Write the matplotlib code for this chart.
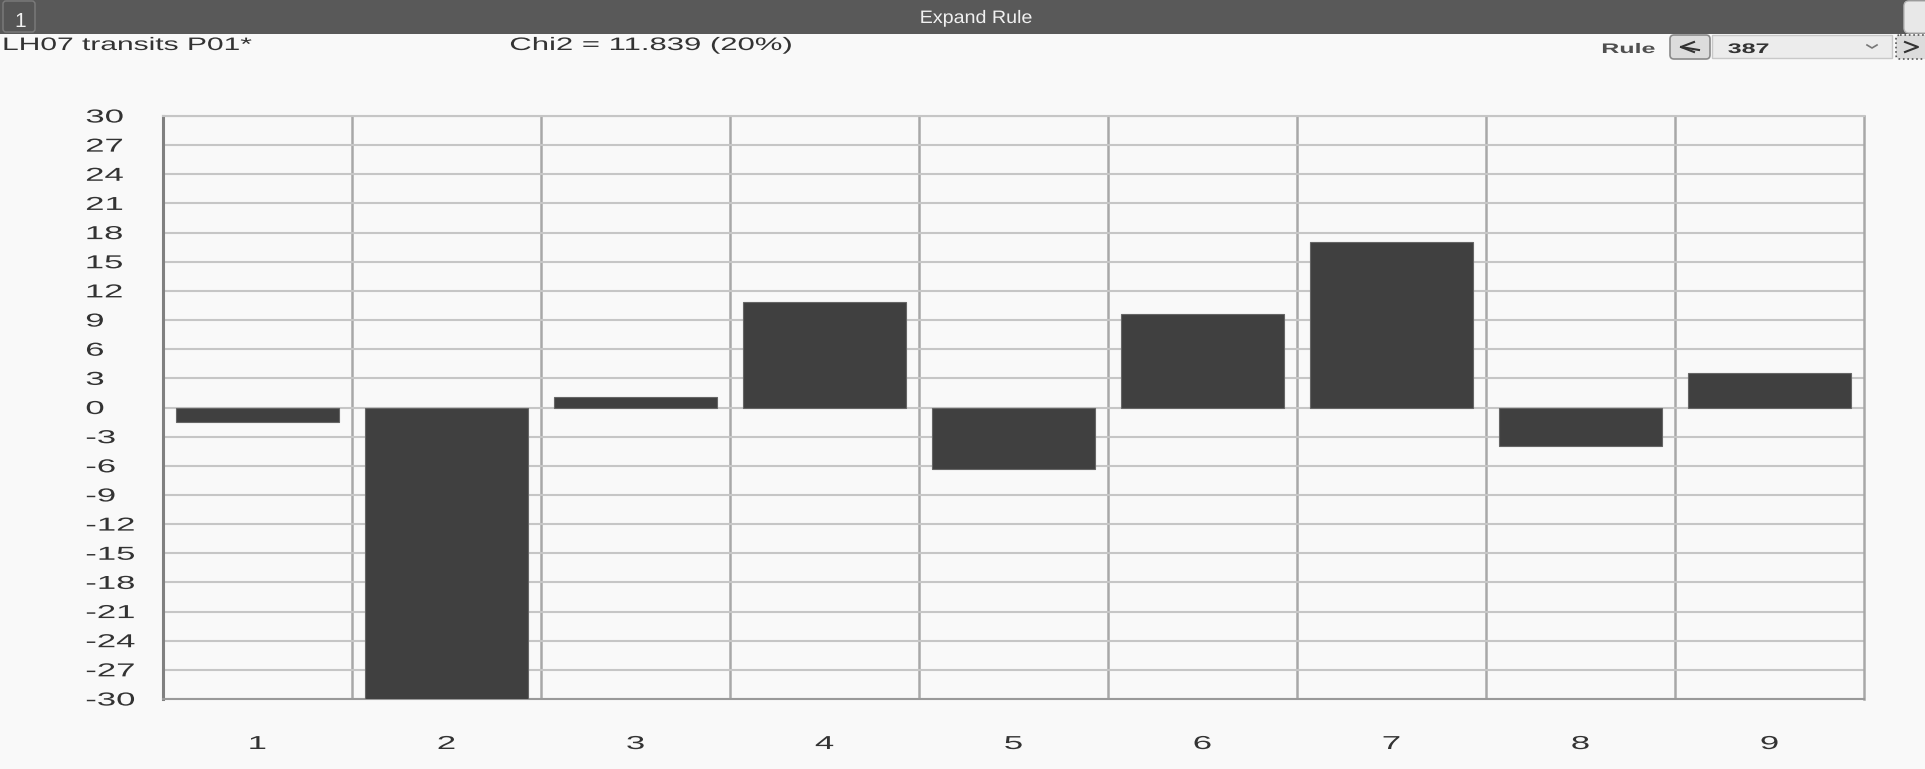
import matplotlib
matplotlib.use('Agg')
import matplotlib.pyplot as plt
import matplotlib.patches as patches
from matplotlib.patheffects import AbstractPathEffect
from matplotlib.transforms import Affine2D
import numpy as np

plt.rcParams['font.family'] = ['Liberation Sans', 'DejaVu Sans']
plt.rcParams['axes.unicode_minus'] = False

# colours
BG = '#f9f9f9'
BAR = '#404040'
TXT = '#333333'

# data
categories = ['1', '2', '3', '4', '5', '6', '7', '8', '9']
values = [-1.5, -30.0, 1.1, 10.9, -6.3, 9.6, 17.0, -4.0, 3.5]
yticks = list(range(-30, 31, 3))

window_title = 'Expand Rule'
rule_name = 'LH07 transits P01*'
chi2_text = 'Chi2 = 11.839 (20%)'
rule_number = '387'


class StretchX(AbstractPathEffect):
    """Draws text glyphs stretched horizontally (screenshot is wide)."""

    def __init__(self, sx, anchor='center'):
        super().__init__()
        self.sx = sx
        self.anchor = anchor

    def draw_path(self, renderer, gc, tpath, affine, rgbFace=None):
        ext = tpath.get_extents(affine)
        if self.anchor == 'left':
            x0 = ext.x0
        elif self.anchor == 'right':
            x0 = ext.x1
        else:
            x0 = 0.5 * (ext.x0 + ext.x1)
        t = affine + Affine2D().translate(-x0, 0).scale(self.sx, 1).translate(x0, 0)
        renderer.draw_path(gc, tpath, t, rgbFace)


fig = plt.figure(figsize=(19.25, 7.69), dpi=100, facecolor=BG)

# --- window chrome, in pixel coordinates ---
ui = fig.add_axes([0, 0, 1, 1], zorder=0)
ui.set_xlim(0, 1925)
ui.set_ylim(769, 0)
ui.axis('off')

ui.add_patch(patches.Rectangle((0, 0), 1925, 34, facecolor='#595959', edgecolor='none'))
ui.add_patch(patches.FancyBboxPatch((3, 1), 32, 31, boxstyle='round,pad=0,rounding_size=3',
                                    facecolor='#565656', edgecolor='#7c7c7c', lw=1))
ui.text(20, 27, '1', color='#f2f2f2', fontsize=15, ha='center', va='baseline')
ui.text(976, 23, window_title, color='#f0f0f0', fontsize=13, ha='center', va='baseline',
        path_effects=[StretchX(1.09, 'center')])
ui.add_patch(patches.FancyBboxPatch((1904, 1), 40, 32, boxstyle='round,pad=0,rounding_size=5',
                                    facecolor='#e8e8e8', edgecolor='#b8b8b8', lw=1))

ui.text(3, 50, rule_name, color=TXT, fontsize=13, ha='left', va='baseline',
        path_effects=[StretchX(1.66, 'left')])
ui.text(510, 50, chi2_text, color=TXT, fontsize=13, ha='left', va='baseline',
        path_effects=[StretchX(1.72, 'left')])

ui.text(1602, 53, 'Rule', color='#505050', fontsize=10, fontweight='bold', ha='left',
        va='baseline', path_effects=[StretchX(1.8, 'left')])
ui.add_patch(patches.FancyBboxPatch((1670, 35), 40, 24, boxstyle='round,pad=0,rounding_size=4',
                                    facecolor='#dcdcdc', edgecolor='#8a8a8a', lw=1.2))
ui.plot([1694, 1681, 1694], [42, 47, 52], color='#333333', lw=1.5)
ui.plot([1681, 1699], [47, 50], color='#333333', lw=1.5)
ui.add_patch(patches.Rectangle((1712, 35), 180, 23, facecolor='#ececec', edgecolor='#c8c8c8', lw=1))
ui.text(1728, 53, rule_number, color='#333333', fontsize=10, fontweight='bold', ha='left',
        va='baseline', path_effects=[StretchX(1.8, 'left')])
ui.plot([1867, 1872, 1877], [45, 48, 45], color='#777777', lw=1.2)
ui.add_patch(patches.FancyBboxPatch((1896, 35), 40, 24, boxstyle='round,pad=0,rounding_size=4',
                                    facecolor='#dcdcdc', edgecolor='#555555', lw=1.2, ls=':'))
ui.plot([1905, 1918, 1905], [42, 47, 52], color='#333333', lw=1.5)

# --- the bar chart ---
ax = fig.add_axes([163 / 1925, 70 / 769, (1864 - 163) / 1925, (699 - 116) / 769],
                  zorder=1, facecolor=BG)
x = np.arange(1, len(values) + 1)
ax.bar(x, values, width=0.86, color=BAR, edgecolor='#666666', linewidth=0.8, zorder=3)
ax.set_xlim(0.5, len(values) + 0.5)
ax.set_ylim(-30, 30)
ax.set_yticks(yticks)
ax.set_xticks(x, categories)
ax.set_xticks(np.arange(1.5, len(values), 1), minor=True)

ax.yaxis.grid(True, color='#c6c6c6', lw=1.5)
ax.xaxis.grid(True, which='minor', color='#a8a8a8', lw=1.8)
ax.set_axisbelow(True)

ax.spines['left'].set_color('#808080')
ax.spines['left'].set_linewidth(2.2)
ax.spines['right'].set_color('#a8a8a8')
ax.spines['right'].set_linewidth(1.8)
ax.spines['top'].set_color('#c6c6c6')
ax.spines['top'].set_linewidth(1.5)
ax.spines['bottom'].set_color('#9a9a9a')
ax.spines['bottom'].set_linewidth(1.5)

ax.tick_params(axis='both', which='both', length=0, labelsize=13.5, labelcolor=TXT)
ax.tick_params(axis='y', pad=77 * 0.72)
ax.tick_params(axis='x', pad=50 * 0.72)
plt.setp(ax.get_yticklabels(), ha='left', path_effects=[StretchX(1.85, 'left')])
plt.setp(ax.get_xticklabels(), va='baseline', path_effects=[StretchX(1.85, 'center')])

fig.savefig('out.png', dpi=100, facecolor=BG)
